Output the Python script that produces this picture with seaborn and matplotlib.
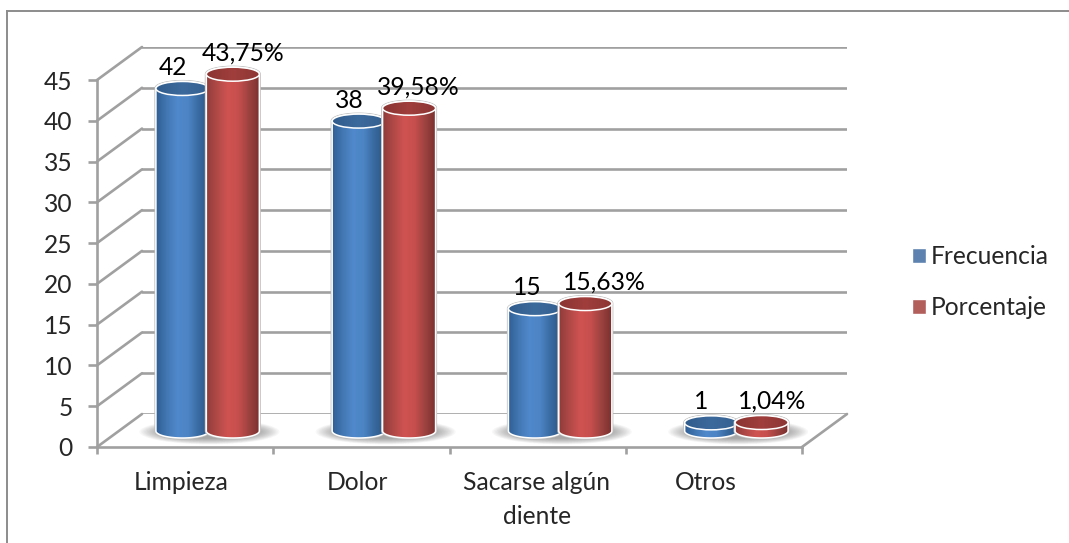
import numpy as np
import pandas as pd
import matplotlib
matplotlib.use('Agg')
import matplotlib.pyplot as plt
import seaborn as sns
from matplotlib.colors import LinearSegmentedColormap
from matplotlib.patches import Ellipse, Polygon
from matplotlib.transforms import ScaledTranslation

categories = ['Limpieza', 'Dolor', 'Sacarse algún\ndiente', 'Otros']
frecuencia = [42, 38, 15, 1]
porcentaje = [43.75, 39.58, 15.63, 1.04]
frecuencia_labels = ['42', '38', '15', '1']
porcentaje_labels = ['43,75%', '39,58%', '15,63%', '1,04%']
y_ticks = [0, 5, 10, 15, 20, 25, 30, 35, 40, 45]

W, H = 1069, 543
GRID = '#a0a0a0'
LINE = 1.9

sns.set_style('white')
plt.rcParams['font.family'] = ['Lato', 'DejaVu Sans']
plt.rcParams['font.size'] = 17.7


def add_axes_px(fig, left, top, right, bottom):
    return fig.add_axes([left / W, 1 - bottom / H, (right - left) / W, (bottom - top) / H])


df = pd.DataFrame({
    'Motivo': categories * 2,
    'Valor': frecuencia + porcentaje,
    'Serie': ['Frecuencia'] * 4 + ['Porcentaje'] * 4,
})

fig = plt.figure(figsize=(W / 100, H / 100), dpi=100)

# outer frame, only top and left show up in the original
ax_frame = add_axes_px(fig, 7, 11, W + 5, H + 5)
ax_frame.set_xticks([])
ax_frame.set_yticks([])
for s in ['right', 'bottom']:
    ax_frame.spines[s].set_visible(False)
for s in ['top', 'left']:
    ax_frame.spines[s].set_visible(True)
    ax_frame.spines[s].set_color('#8c8c8c')
    ax_frame.spines[s].set_linewidth(1.4)

# back wall, front axis plane and bar plane are the same box shifted in depth
ax_back = add_axes_px(fig, 142, 47, 847, 414)
ax_front = add_axes_px(fig, 97, 80, 802, 447)
ax_bars = add_axes_px(fig, 119.5, 64, 824.5, 431)

for ax in [ax_back, ax_front, ax_bars]:
    ax.patch.set_alpha(0)

ax_back.set_xlim(-0.5, 3.5)
ax_back.set_ylim(0, 45)
ax_back.set_yticks(y_ticks)
ax_back.set_xticks([])
ax_back.set_yticklabels([])
ax_back.grid(axis='y', color=GRID, lw=LINE)
ax_back.tick_params(left=False)
sns.despine(ax=ax_back, left=True, bottom=True)

ax_front.set_xlim(-0.5, 3.5)
ax_front.set_ylim(0, 45)
ax_front.set_yticks(y_ticks)
ax_front.set_xticks([-0.5, 0.5, 1.5, 2.5, 3.5])
ax_front.set_xticklabels([])
ax_front.set_xticks([0, 1, 2, 3], minor=True)
ax_front.set_xticklabels(categories, minor=True, linespacing=1.6)
ax_front.tick_params(axis='y', which='major', length=6.5, width=LINE, color=GRID, pad=11, left=True)
ax_front.tick_params(axis='x', which='major', length=5, width=LINE, color=GRID, bottom=True)
ax_front.tick_params(axis='x', which='minor', length=0, pad=17)
sns.despine(ax=ax_front)
for s in ['left', 'bottom']:
    ax_front.spines[s].set_color(GRID)
    ax_front.spines[s].set_linewidth(LINE)

# category labels sit a little left of the slot centre in the original
label_shift = [-4, -4, -1, -8]
for lab, dx in zip(ax_front.get_xticklabels(minor=True), label_shift):
    lab.set_transform(lab.get_transform() + ScaledTranslation(dx / 100, 0, fig.dpi_scale_trans))

# side wall and floor edges joining front plane to back wall
depth_x = 45 / 705 * 4
depth_y = 33 / 367 * 45
for v in y_ticks:
    ax_front.plot([-0.5, -0.5 + depth_x], [v, v + depth_y], color=GRID, lw=LINE, clip_on=False)
ax_front.plot([3.5, 3.5 + depth_x], [0, depth_y], color=GRID, lw=LINE, clip_on=False)

ax_back.set_zorder(1)
ax_front.set_zorder(2)
ax_bars.set_zorder(3)

sns.barplot(data=df, x='Motivo', y='Valor', hue='Serie',
            palette=['#4f81bd', '#c0504d'], width=0.572, gap=0, ax=ax_bars)
ax_bars.set_xlim(-0.5, 3.5)
ax_bars.set_ylim(0, 45)

bar_w = 53 / 705 * 4
ry = 7 / 367 * 45

body_maps = [
    LinearSegmentedColormap.from_list('b', ['#2f5e94', '#4277b2', '#5089cc', '#4c84c4', '#38699f', '#2a5585']),
    LinearSegmentedColormap.from_list('r', ['#8f3c3a', '#b04947', '#cf5351', '#c64f4d', '#9c4240', '#7a302e']),
]
top_maps = [
    LinearSegmentedColormap.from_list('bt', ['#2f5b8c', '#3d6a9c', '#33608f']),
    LinearSegmentedColormap.from_list('rt', ['#8a3432', '#a03e3c', '#8c3634']),
]
ramp = np.linspace(0, 1, 256)[None, :]
t = np.linspace(0, np.pi, 60)


def gradient(ax, cmap, x0, x1, y0, y1, clip, z):
    im = ax.imshow(ramp, cmap=cmap, extent=[x0, x1, y0, y1], aspect='auto', zorder=z,
                   interpolation='bilinear')
    im.set_clip_path(clip)
    im.set_clip_box(fig.bbox)


# soft shadow on the floor below each pair
for i in range(len(categories)):
    for k in range(16):
        ax_bars.add_patch(Ellipse((i + 0.01, -0.1), (140 - k * 3) / 705 * 4, (25 - k * 0.8) / 367 * 45,
                                  fc='#505050', ec='none', alpha=0.04, zorder=1, clip_on=False))

z = 3
texts = [frecuencia_labels, porcentaje_labels]
label_dx = [[-9, -9, -8, -10], [10, 9, 19, 11]]
for s, bars in enumerate(ax_bars.containers):
    for j, p in enumerate(bars):
        cx = p.get_x() + p.get_width() / 2
        h = p.get_height()
        p.set_alpha(0)
        xs = np.cos(t) * bar_w / 2 + cx
        outline = np.r_[np.c_[xs[::-1], -np.sin(t[::-1]) * ry],
                        np.c_[xs, h + np.sin(t) * ry]]
        halo = Polygon(outline, closed=True, fc='none', ec='#bdbdbd', lw=2.2, zorder=z, clip_on=False)
        ax_bars.add_patch(halo)
        body = Polygon(outline, closed=True, fc='none', ec='white', lw=1.1, zorder=z + 2, clip_on=False)
        ax_bars.add_patch(body)
        gradient(ax_bars, body_maps[s], cx - bar_w / 2, cx + bar_w / 2, -ry, h + ry, body, z + 1)

        cap = Ellipse((cx, h), bar_w, 2 * ry, fc='none', ec='white', lw=1.1, zorder=z + 4, clip_on=False)
        ax_bars.add_patch(cap)
        gradient(ax_bars, top_maps[s], cx - bar_w / 2, cx + bar_w / 2, h - ry, h + ry, cap, z + 3)

        ax_bars.annotate(texts[s][j], (cx, h), xytext=(label_dx[s][j] * 0.72, 21 * 0.72),
                         textcoords='offset points', ha='center', va='center',
                         color='black', zorder=40, annotation_clip=False)
        z += 5

ax_bars.set_xlim(-0.5, 3.5)
ax_bars.set_ylim(0, 45)
ax_bars.set_axis_off()

sns.move_legend(ax_bars, loc='center left', bbox_to_anchor=(912 / W, 1 - 282 / H),
                bbox_transform=fig.transFigure, title=None, frameon=False,
                handlelength=0.55, handleheight=0.55, handletextpad=0.22,
                labelspacing=1.15, borderpad=0, borderaxespad=0)

plt.savefig('out.png', dpi=100)
plt.close()
